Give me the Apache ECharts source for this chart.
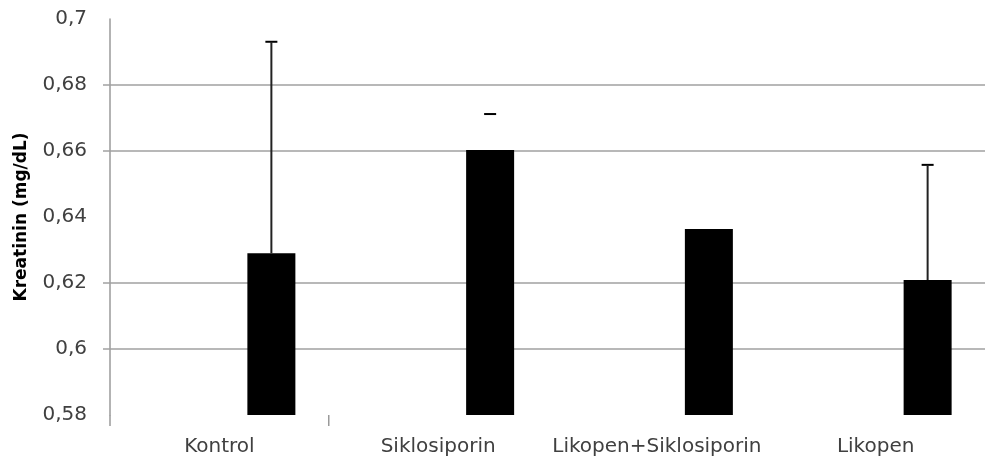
<!DOCTYPE html>
<html>
<head>
<meta charset="utf-8">
<script src="https://cdn.jsdelivr.net/npm/echarts@6/dist/echarts.min.js"></script>
<style>html,body{margin:0;padding:0;background:#fff}#c{width:985px;height:465px}</style>
</head>
<body>
<div id="c"></div>
<script>
// ---- data ----
const categories = ['Kontrol', 'Siklosiporin', 'Likopen+Siklosiporin', 'Likopen'];
const kreatinin = [0.629, 0.6603, 0.6364, 0.6209];
const errorTop = [0.6931, 0.6712, null, 0.6558];
const errorStemVisible = [true, false, true, true];
const gridValues = [0.60, 0.62, 0.66, 0.68];
const yMin = 0.58, yMax = 0.70, yStep = 0.02;

// ---- layout constants ----
const BAR_W = 48;
const BAR_GAP = 1.1667;
const BAR_OFFSET = BAR_W * (1 + BAR_GAP) / 2;
const FONT = 'DejaVu Sans';
const AXIS_COLOR = '#9a9a9a';

const chart = echarts.init(document.getElementById('c'));
chart.setOption({
  animation: false,
  grid: { left: 110, right: 0, top: 19, bottom: 50 },
  xAxis: {
    type: 'category',
    data: categories,
    axisLine: { show: false },
    axisTick: { show: false },
    axisLabel: { color: '#404040', fontFamily: FONT, fontSize: 20, margin: 22, interval: 0 }
  },
  yAxis: {
    type: 'value',
    min: yMin, max: yMax, interval: yStep,
    name: 'Kreatinin (mg/dL)',
    nameLocation: 'middle',
    nameRotate: 90,
    nameGap: 80,
    nameTextStyle: { fontFamily: FONT, fontSize: 17, fontWeight: 'bold', color: '#000' },
    axisLine: { show: true, lineStyle: { color: AXIS_COLOR, width: 1.5 } },
    axisTick: { show: false },
    splitLine: { show: false },
    axisLabel: {
      color: '#404040', fontFamily: FONT, fontSize: 20, margin: 23,
      formatter: function (v) { return String(+v.toFixed(2)).replace('.', ','); }
    }
  },
  series: [
    {
      type: 'custom',
      name: 'grid',
      silent: true,
      z: 1,
      data: gridValues.map(function (v) { return [0, v]; }),
      renderItem: function (params, api) {
        const y = api.coord([0, api.value(1)])[1];
        const cs = params.coordSys;
        return {
          type: 'line',
          shape: { x1: cs.x - 7, y1: y, x2: cs.x + cs.width, y2: y },
          style: { stroke: '#a0a0a0', lineWidth: 1.5 }
        };
      }
    },
    {
      type: 'custom',
      name: 'frame',
      silent: true,
      z: 1,
      data: [[0, yMin]],
      renderItem: function (params, api) {
        const cs = params.coordSys;
        const p0 = api.coord([0, yMin]);
        const p1 = api.coord([1, yMin]);
        const xb = (p0[0] + p1[0]) / 2;
        const yb = cs.y + cs.height;
        return {
          type: 'group',
          children: [
            { type: 'line', shape: { x1: cs.x, y1: yb, x2: cs.x, y2: yb + 11 }, style: { stroke: AXIS_COLOR, lineWidth: 1.5 } },
            { type: 'line', shape: { x1: xb, y1: yb, x2: xb, y2: yb + 11 }, style: { stroke: AXIS_COLOR, lineWidth: 1.5 } }
          ]
        };
      }
    },
    {
      type: 'bar',
      name: 'empty',
      data: categories.map(function () { return '-'; }),
      barWidth: BAR_W,
      barGap: (BAR_GAP * 100) + '%'
    },
    {
      type: 'bar',
      name: 'Kreatinin',
      data: kreatinin,
      barWidth: BAR_W,
      barGap: (BAR_GAP * 100) + '%',
      itemStyle: { color: '#000' },
      z: 3
    },
    {
      type: 'custom',
      name: 'error',
      z: 4,
      data: kreatinin.map(function (v, i) { return [i, v, errorTop[i] == null ? v : errorTop[i], errorTop[i] == null ? 0 : 1, errorStemVisible[i] ? 1 : 0]; }),
      renderItem: function (params, api) {
        if (!api.value(3)) return null;
        const b = api.coord([api.value(0), api.value(1)]);
        const t = api.coord([api.value(0), api.value(2)]);
        const x = b[0] + BAR_OFFSET;
        const children = [{
          type: 'line',
          shape: { x1: x - 6, y1: t[1], x2: x + 6, y2: t[1] },
          style: { stroke: '#000', lineWidth: 2 }
        }];
        if (api.value(4)) {
          children.push({
            type: 'line',
            shape: { x1: x, y1: b[1], x2: x, y2: t[1] },
            style: { stroke: '#222', lineWidth: 2 }
          });
        }
        return { type: 'group', children: children };
      }
    }
  ]
});
</script>
</body>
</html>
